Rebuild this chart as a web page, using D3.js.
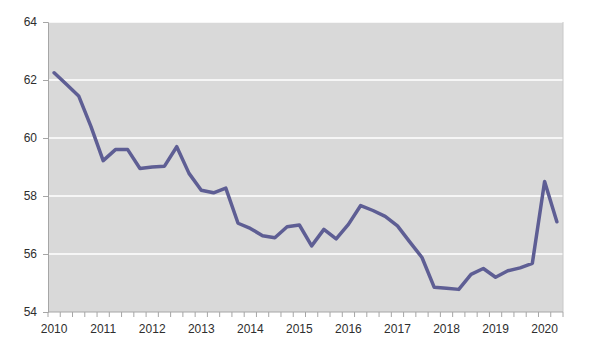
<!DOCTYPE html>
<html>
<head>
<meta charset="utf-8">
<script src="https://cdn.jsdelivr.net/npm/d3@7"></script>
<style>
  html, body { margin: 0; padding: 0; background: #ffffff; }
  svg { display: block; font-family: "Liberation Sans", Arial, sans-serif; }
</style>
</head>
<body>
<svg id="chart" width="595" height="350"></svg>
<script>
// Quarterly series, 2010 Q1 – 2020 Q2
const years = [2010, 2011, 2012, 2013, 2014, 2015, 2016, 2017, 2018, 2019, 2020];
const quarters = years.flatMap(y => [1, 2, 3, 4].map(q => `${y}Q${q}`)).slice(0, 42);
const values = [
  62.25, 61.85, 61.45, 60.4, 59.22, 59.6, 59.6, 58.95,
  59.0, 59.03, 59.7, 58.78, 58.2, 58.11, 58.27, 57.06,
  56.88, 56.63, 56.56, 56.94, 57.0, 56.28, 56.85, 56.52,
  57.02, 57.67, 57.5, 57.3, 56.97, 56.42, 55.88, 54.85,
  54.82, 54.78, 55.3, 55.5, 55.2, 55.42, 55.52, 55.68,
  58.5, 57.11
];
const yTicks = [54, 56, 58, 60, 62, 64];
const yearLabels = years.map(String);

const svg = d3.select("#chart");
const plot = { left: 48, right: 563, top: 22, bottom: 312 };

const x = d3.scaleBand().domain(quarters).range([plot.left, plot.right]).paddingInner(0).paddingOuter(0);
const y = d3.scaleLinear().domain([54, 64]).range([plot.bottom, plot.top]);

// plot area
svg.append("rect")
  .attr("x", plot.left).attr("y", plot.top)
  .attr("width", plot.right - plot.left).attr("height", plot.bottom - plot.top)
  .attr("fill", "#d9d9d9");

// horizontal gridlines
svg.append("g").selectAll("line")
  .data(yTicks.filter(t => t > 54))
  .join("line")
  .attr("x1", plot.left).attr("x2", plot.right)
  .attr("y1", d => y(d)).attr("y2", d => y(d))
  .attr("stroke", "#ffffff").attr("stroke-width", 1.5);

// right edge of plot area
svg.append("line")
  .attr("x1", plot.right).attr("x2", plot.right)
  .attr("y1", plot.top).attr("y2", plot.bottom)
  .attr("stroke", "#c8c8c8").attr("stroke-width", 1);

// y axis
const yAxis = d3.axisLeft(y).tickValues(yTicks).tickSize(5).tickPadding(6).tickFormat(d3.format("d"));
const gy = svg.append("g").attr("transform", `translate(${plot.left},0)`).call(yAxis);
gy.select(".domain").attr("stroke", "#a6a6a6");
gy.selectAll(".tick line").attr("stroke", "#a6a6a6");
gy.selectAll("text").attr("fill", "#2e2e2e").attr("font-size", "12px")
  .attr("font-family", "'Liberation Sans', Arial, sans-serif");

// x axis: tick marks between quarters, year labels centred on each Q1
const tickPositions = quarters.map(q => x(q)).concat([plot.right]);
const gx = svg.append("g");
gx.append("line")
  .attr("x1", plot.left).attr("x2", plot.right)
  .attr("y1", plot.bottom).attr("y2", plot.bottom)
  .attr("stroke", "#a6a6a6");
gx.selectAll("line.tk")
  .data(tickPositions)
  .join("line").attr("class", "tk")
  .attr("x1", d => d).attr("x2", d => d)
  .attr("y1", plot.bottom).attr("y2", plot.bottom + 5)
  .attr("stroke", "#a6a6a6");
gx.selectAll("text")
  .data(yearLabels)
  .join("text")
  .attr("x", d => x(`${d}Q1`) + x.bandwidth() / 2)
  .attr("y", plot.bottom + 21)
  .attr("text-anchor", "middle")
  .attr("fill", "#2e2e2e")
  .attr("font-size", "12px")
  .text(d => d);

// series line
const line = d3.line()
  .x((d, i) => x(quarters[i]) + x.bandwidth() / 2)
  .y(d => y(d));
svg.append("path")
  .datum(values)
  .attr("d", line)
  .attr("fill", "none")
  .attr("stroke", "#5e5e94")
  .attr("stroke-width", 3.5)
  .attr("stroke-linejoin", "round")
  .attr("stroke-linecap", "round");
</script>
</body>
</html>
